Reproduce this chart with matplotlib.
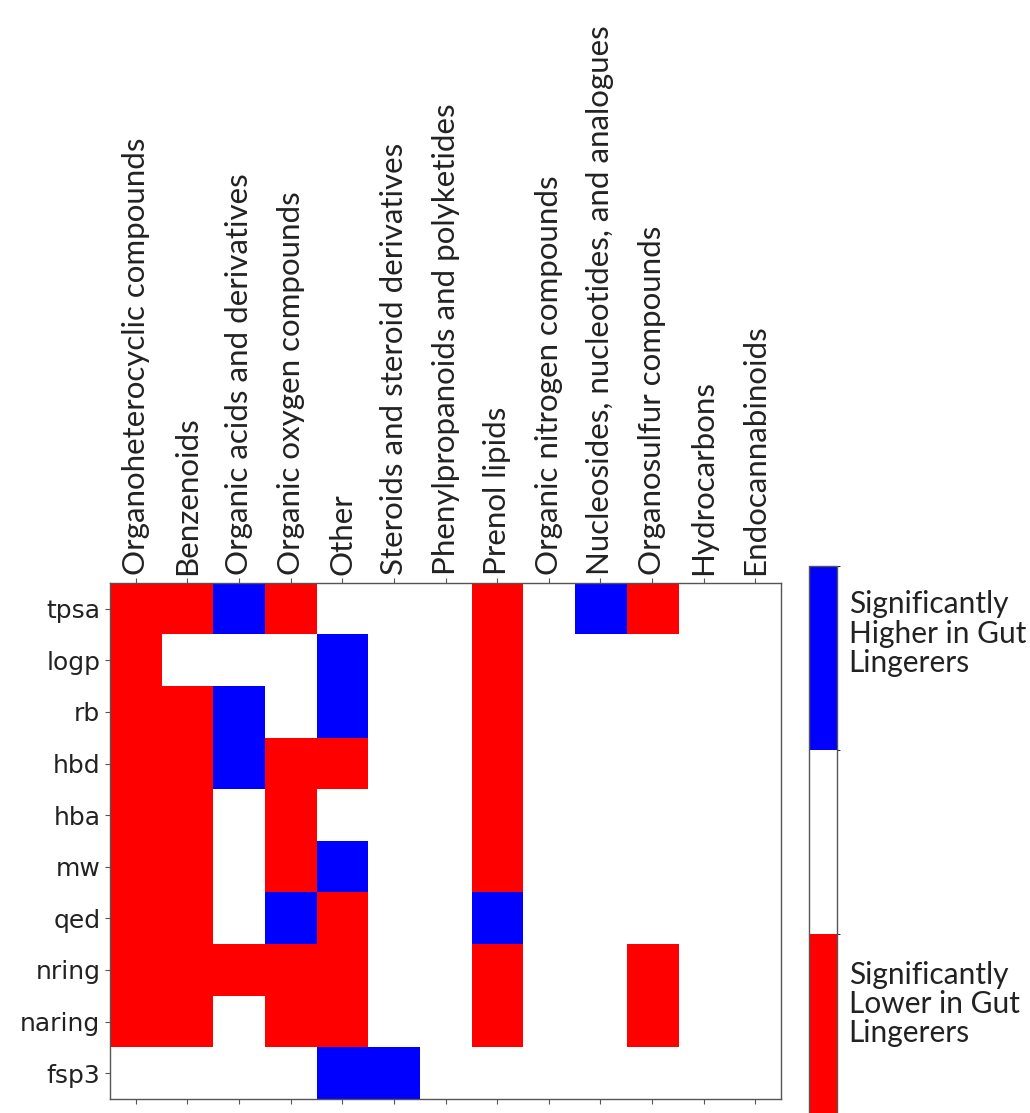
import numpy as np
import matplotlib
matplotlib.use("Agg")
import matplotlib.pyplot as plt
from matplotlib.colors import ListedColormap, BoundaryNorm

# Compound classes (columns) and molecular descriptors (rows)
classes = [
    "Organoheterocyclic compounds",
    "Benzenoids",
    "Organic acids and derivatives",
    "Organic oxygen compounds",
    "Other",
    "Steroids and steroid derivatives",
    "Phenylpropanoids and polyketides",
    "Prenol lipids",
    "Organic nitrogen compounds",
    "Nucleosides, nucleotides, and analogues",
    "Organosulfur compounds",
    "Hydrocarbons",
    "Endocannabinoids",
]
descriptors = ["tpsa", "logp", "rb", "hbd", "hba", "mw", "qed", "nring", "naring", "fsp3"]

# -1 = significantly lower, 0 = not significant, 1 = significantly higher
tpsa   = [-1, -1,  1, -1,  0, 0, 0, -1, 0, 1, -1, 0, 0]
logp   = [-1,  0,  0,  0,  1, 0, 0, -1, 0, 0,  0, 0, 0]
rb     = [-1, -1,  1,  0,  1, 0, 0, -1, 0, 0,  0, 0, 0]
hbd    = [-1, -1,  1, -1, -1, 0, 0, -1, 0, 0,  0, 0, 0]
hba    = [-1, -1,  0, -1,  0, 0, 0, -1, 0, 0,  0, 0, 0]
mw     = [-1, -1,  0, -1,  1, 0, 0, -1, 0, 0,  0, 0, 0]
qed    = [-1, -1,  0,  1, -1, 0, 0,  1, 0, 0,  0, 0, 0]
nring  = [-1, -1, -1, -1, -1, 0, 0, -1, 0, 0, -1, 0, 0]
naring = [-1, -1,  0, -1, -1, 0, 0, -1, 0, 0, -1, 0, 0]
fsp3   = [ 0,  0,  0,  0,  1, 1, 0,  0, 0, 0,  0, 0, 0]

data = np.array([tpsa, logp, rb, hbd, hba, mw, qed, nring, naring, fsp3])

cmap = ListedColormap(["#ff0000", "#ffffff", "#0000ff"])
norm = BoundaryNorm([-1.5, -0.5, 0.5, 1.5], cmap.N)

fig = plt.figure(figsize=(10.30, 11.13), dpi=100)
ax = fig.add_axes([0.1068, 0.0126, 0.6515, 0.4636])
im = ax.imshow(data, cmap=cmap, norm=norm, aspect="auto", interpolation="nearest")

edge = "#555555"
ax.set_xticks(np.arange(len(classes)))
ax.set_xticklabels(classes, rotation=90, fontsize=22.5, family="Lato")
ax.set_yticks(np.arange(len(descriptors)))
ax.set_yticklabels(descriptors, fontsize=18, family="DejaVu Sans", color="#222222")
ax.tick_params(axis="x", top=True, labeltop=True, bottom=True, labelbottom=False,
               color=edge, labelcolor="#222222", pad=2.5)
ax.tick_params(axis="y", color=edge)
for s in ax.spines.values():
    s.set_color(edge)
    s.set_linewidth(1.0)

cax = fig.add_axes([0.7854, -0.0045, 0.0272, 0.496])
cb = fig.colorbar(im, cax=cax, boundaries=[-1.5, -0.5, 0.5, 1.5])
cb.set_ticks([])
cb.outline.set_edgecolor(edge)
cb.outline.set_linewidth(1.0)

fig.text(0.824, 0.4695, "Significantly\nHigher in Gut\nLingerers", fontsize=21.5,
         family="Lato", color="#222222", va="top", ha="left", linespacing=1.05)
fig.text(0.824, 0.137, "Significantly\nLower in Gut\nLingerers", fontsize=21.5,
         family="Lato", color="#222222", va="top", ha="left", linespacing=1.05)

fig.savefig("out.png", dpi=100)
